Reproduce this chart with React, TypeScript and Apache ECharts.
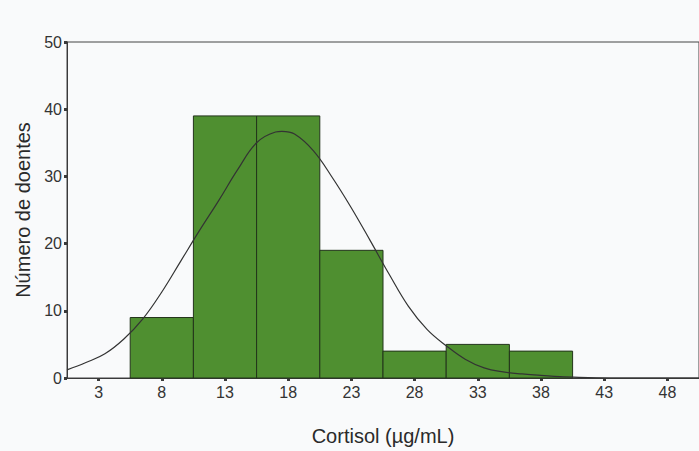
import React, { useEffect, useRef } from "react";
import * as echarts from "echarts";

// Histogram bins (centre of each 5 µg/mL class) and patient counts
const binCenters = [8, 13, 18, 23, 28, 33, 38];
const binCounts = [9, 39, 39, 19, 4, 5, 4];
const binWidth = 5;

// Fitted normal curve, sampled points [cortisol, patients]
const curveX = [0.5, 2, 3.5, 5, 6.5, 8, 9.5, 11, 12.5, 14, 15.5, 17, 17.5, 18.5, 20, 21.5, 23, 24.5, 26, 27.5, 29, 30.5, 32, 33.5, 35, 36.5, 38, 39.5, 41, 44, 47, 50.5];
const curveY = [1.2, 2.3, 3.6, 5.8, 8.8, 12.8, 17.4, 22.0, 26.4, 31.0, 35.0, 36.6, 36.7, 36.3, 33.8, 29.8, 25.3, 20.4, 15.4, 10.7, 7.2, 4.8, 2.8, 1.5, 0.9, 0.6, 0.4, 0.2, 0.1, 0.0, 0.0, 0.0];

// Axis ticks
const xTicks = [3, 8, 13, 18, 23, 28, 33, 38, 43, 48];
const yMin = 0;
const yMax = 50;
const yStep = 10;

const FONT = "'Liberation Sans', Arial, sans-serif";
const AXIS_COLOR = "#3a3a3a";

export default function App() {
  const ref = useRef<HTMLDivElement>(null);

  useEffect(() => {
    if (!ref.current) return;
    const chart = echarts.init(ref.current, null, { renderer: "svg" });

    const bins = binCenters.map((c, i) => [c - binWidth / 2, c + binWidth / 2, binCounts[i]]);
    const curve = curveX.map((x, i) => [x, curveY[i]]);

    chart.setOption({
      animation: false,
      backgroundColor: "#f9fafb",
      grid: {
        left: 67,
        top: 42,
        height: 342,
        width: 640,
        show: true,
        borderColor: "#444",
        borderWidth: 1,
        backgroundColor: "transparent",
      },
      xAxis: {
        type: "value",
        min: 0.5,
        max: 50.5,
        name: "Cortisol (µg/mL)",
        nameLocation: "middle",
        nameGap: 48,
        nameTextStyle: { fontFamily: FONT, fontSize: 20, color: "#2a2a2a" },
        axisLine: { show: true, lineStyle: { color: AXIS_COLOR, width: 1 } },
        axisTick: {
          show: true,
          customValues: xTicks,
          length: 3,
          lineStyle: { color: AXIS_COLOR, width: 3 },
        },
        axisLabel: {
          customValues: xTicks,
          fontFamily: FONT,
          fontSize: 16,
          color: "#333",
          margin: 6,
        },
        splitLine: { show: false },
      },
      yAxis: {
        type: "value",
        min: yMin,
        max: yMax,
        interval: yStep,
        name: "Número de doentes",
        nameLocation: "middle",
        nameGap: 32,
        nameTextStyle: { fontFamily: FONT, fontSize: 20, color: "#2a2a2a" },
        axisLine: { show: true, lineStyle: { color: AXIS_COLOR, width: 1 } },
        axisTick: { show: true, length: 3, lineStyle: { color: AXIS_COLOR, width: 3 } },
        axisLabel: { fontFamily: FONT, fontSize: 16, color: "#333", margin: 5 },
        splitLine: { show: false },
      },
      series: [
        {
          type: "custom",
          data: bins,
          renderItem: (_params: any, api: any) => {
            const start = api.coord([api.value(0), api.value(2)]);
            const end = api.coord([api.value(1), 0]);
            return {
              type: "rect",
              shape: {
                x: start[0],
                y: start[1],
                width: end[0] - start[0],
                height: end[1] - start[1],
              },
              style: { fill: "#4f8f30", stroke: "#23341b", lineWidth: 1 },
            };
          },
          z: 2,
        },
        {
          type: "line",
          data: curve,
          smooth: 0.4,
          symbol: "none",
          lineStyle: { color: "#333", width: 1.2 },
          z: 3,
        },
      ],
    });

    return () => chart.dispose();
  }, []);

  return (
    <div
      ref={ref}
      style={{ position: "fixed", left: 0, top: 0, width: 699, height: 451 }}
    />
  );
}
